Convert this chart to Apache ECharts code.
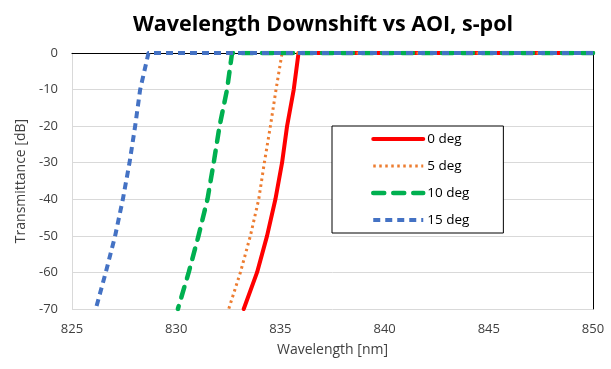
<!DOCTYPE html>
<html><head><meta charset="utf-8">
<script src="https://cdn.jsdelivr.net/npm/echarts@6/dist/echarts.min.js"></script>
<style>html,body{margin:0;padding:0;background:#fff}#c{width:611px;height:369px}</style>
</head><body><div id="c"></div>
<script>
// Transmittance levels [dB] (first entry is the flat tail reaching 850 nm)
var levels = [0, 0, -10, -20, -30, -40, -50, -60, -70];
var seriesNames = ['0 deg', '5 deg', '10 deg', '15 deg'];
var wl0  = [850, 835.87, 835.64, 835.32, 835.08, 834.76, 834.36, 833.88, 833.24];
var wl5  = [850, 835.08, 834.79, 834.52, 834.23, 833.96, 833.56, 833.08, 832.52];
var wl10 = [850, 832.68, 832.44, 832.08, 831.80, 831.50, 831.07, 830.60, 830.08];
var wl15 = [850, 828.67, 828.27, 828.03, 827.76, 827.44, 827.07, 826.62, 826.14];
var xTicks = [825, 830, 835, 840, 845, 850];
var yTicks = [0, -10, -20, -30, -40, -50, -60, -70];

function pairs(wl){ return wl.map(function(w,i){ return [w, levels[i]]; }); }
var font = 'Open Sans, Lato, sans-serif';
var styles = [
  {color:'#FF0000', width:4, type:'solid', cap:'round'},
  {color:'#ED7D31', width:3, type:[2.5,3.5], cap:'butt'},
  {color:'#00B050', width:4.5, type:[11,9], cap:'round'},
  {color:'#4472C4', width:4, type:[7,5], cap:'butt'}
];
var wls = [wl0, wl5, wl10, wl15];
var chart = echarts.init(document.getElementById('c'), null, {renderer:'canvas'});
chart.setOption({
  animation:false,
  title:{text:'Wavelength Downshift vs AOI, s-pol', left:128, top:9,
    textStyle:{fontFamily:font, fontSize:21.5, fontWeight:'bold', color:'#000'}},
  grid:{left:72, right:18, top:53, bottom:60},
  legend:{
    orient:'vertical', left:332, top:126,
    padding:[6,34,6,39], itemGap:13, itemWidth:50, itemHeight:14,
    borderColor:'#000', borderWidth:1, backgroundColor:'#fff',
    itemStyle:{opacity:0},
    textStyle:{fontFamily:font, fontSize:13.5, color:'#000', padding:[0,0,0,-1]},
    data: seriesNames.map(function(n,i){
      var s = styles[i];
      return {name:n, itemStyle:{opacity:0}, lineStyle:{color:s.color, width:s.width, type:s.type, cap:s.cap, opacity:1}};
    })
  },
  xAxis:[{
    type:'value', min:825, max:850, interval:5,
    name:'Wavelength [nm]', nameLocation:'middle', nameGap:34,
    nameTextStyle:{fontFamily:font, fontSize:14, color:'#404040'},
    axisLine:{show:true, lineStyle:{color:'#d9d9d9'}}, axisTick:{show:false},
    axisLabel:{fontFamily:font, fontSize:13, color:'#404040', margin:14,
      formatter:function(v){ return xTicks.indexOf(v)>=0 ? String(v) : ''; }},
    splitLine:{show:false}
  },{
    type:'value', min:825, max:850, position:'top',
    axisLine:{show:true, onZero:false, lineStyle:{color:'#000', width:1}},
    axisTick:{show:false}, axisLabel:{show:false}, splitLine:{show:false}
  }],
  yAxis:[{
    type:'value', min:-70, max:0, interval:10,
    name:'Transmittance [dB]', nameLocation:'middle', nameGap:44,
    nameTextStyle:{fontFamily:font, fontSize:14, color:'#404040'},
    axisLine:{show:true, onZero:false, lineStyle:{color:'#d9d9d9'}}, axisTick:{show:false},
    axisLabel:{fontFamily:font, fontSize:13, color:'#404040', margin:14,
      formatter:function(v){ return yTicks.indexOf(v)>=0 ? String(v) : ''; }},
    splitLine:{show:true, lineStyle:{color:'#d9d9d9'}}
  },{
    type:'value', min:-70, max:0, position:'right',
    axisLine:{show:true, onZero:false, lineStyle:{color:'#000', width:1}},
    axisTick:{show:false}, axisLabel:{show:false}, splitLine:{show:false}
  }],
  series: seriesNames.map(function(n,i){
    var s = styles[i];
    return {
      name:n, type:'line', data:pairs(wls[i]), showSymbol:false, symbol:'none',
      smooth:false, z:2+i, clip:true,
      color:s.color,
      lineStyle:{color:s.color, width:s.width, type:s.type, cap:s.cap, join:'round'}
    };
  })
});
</script>
</body></html>
